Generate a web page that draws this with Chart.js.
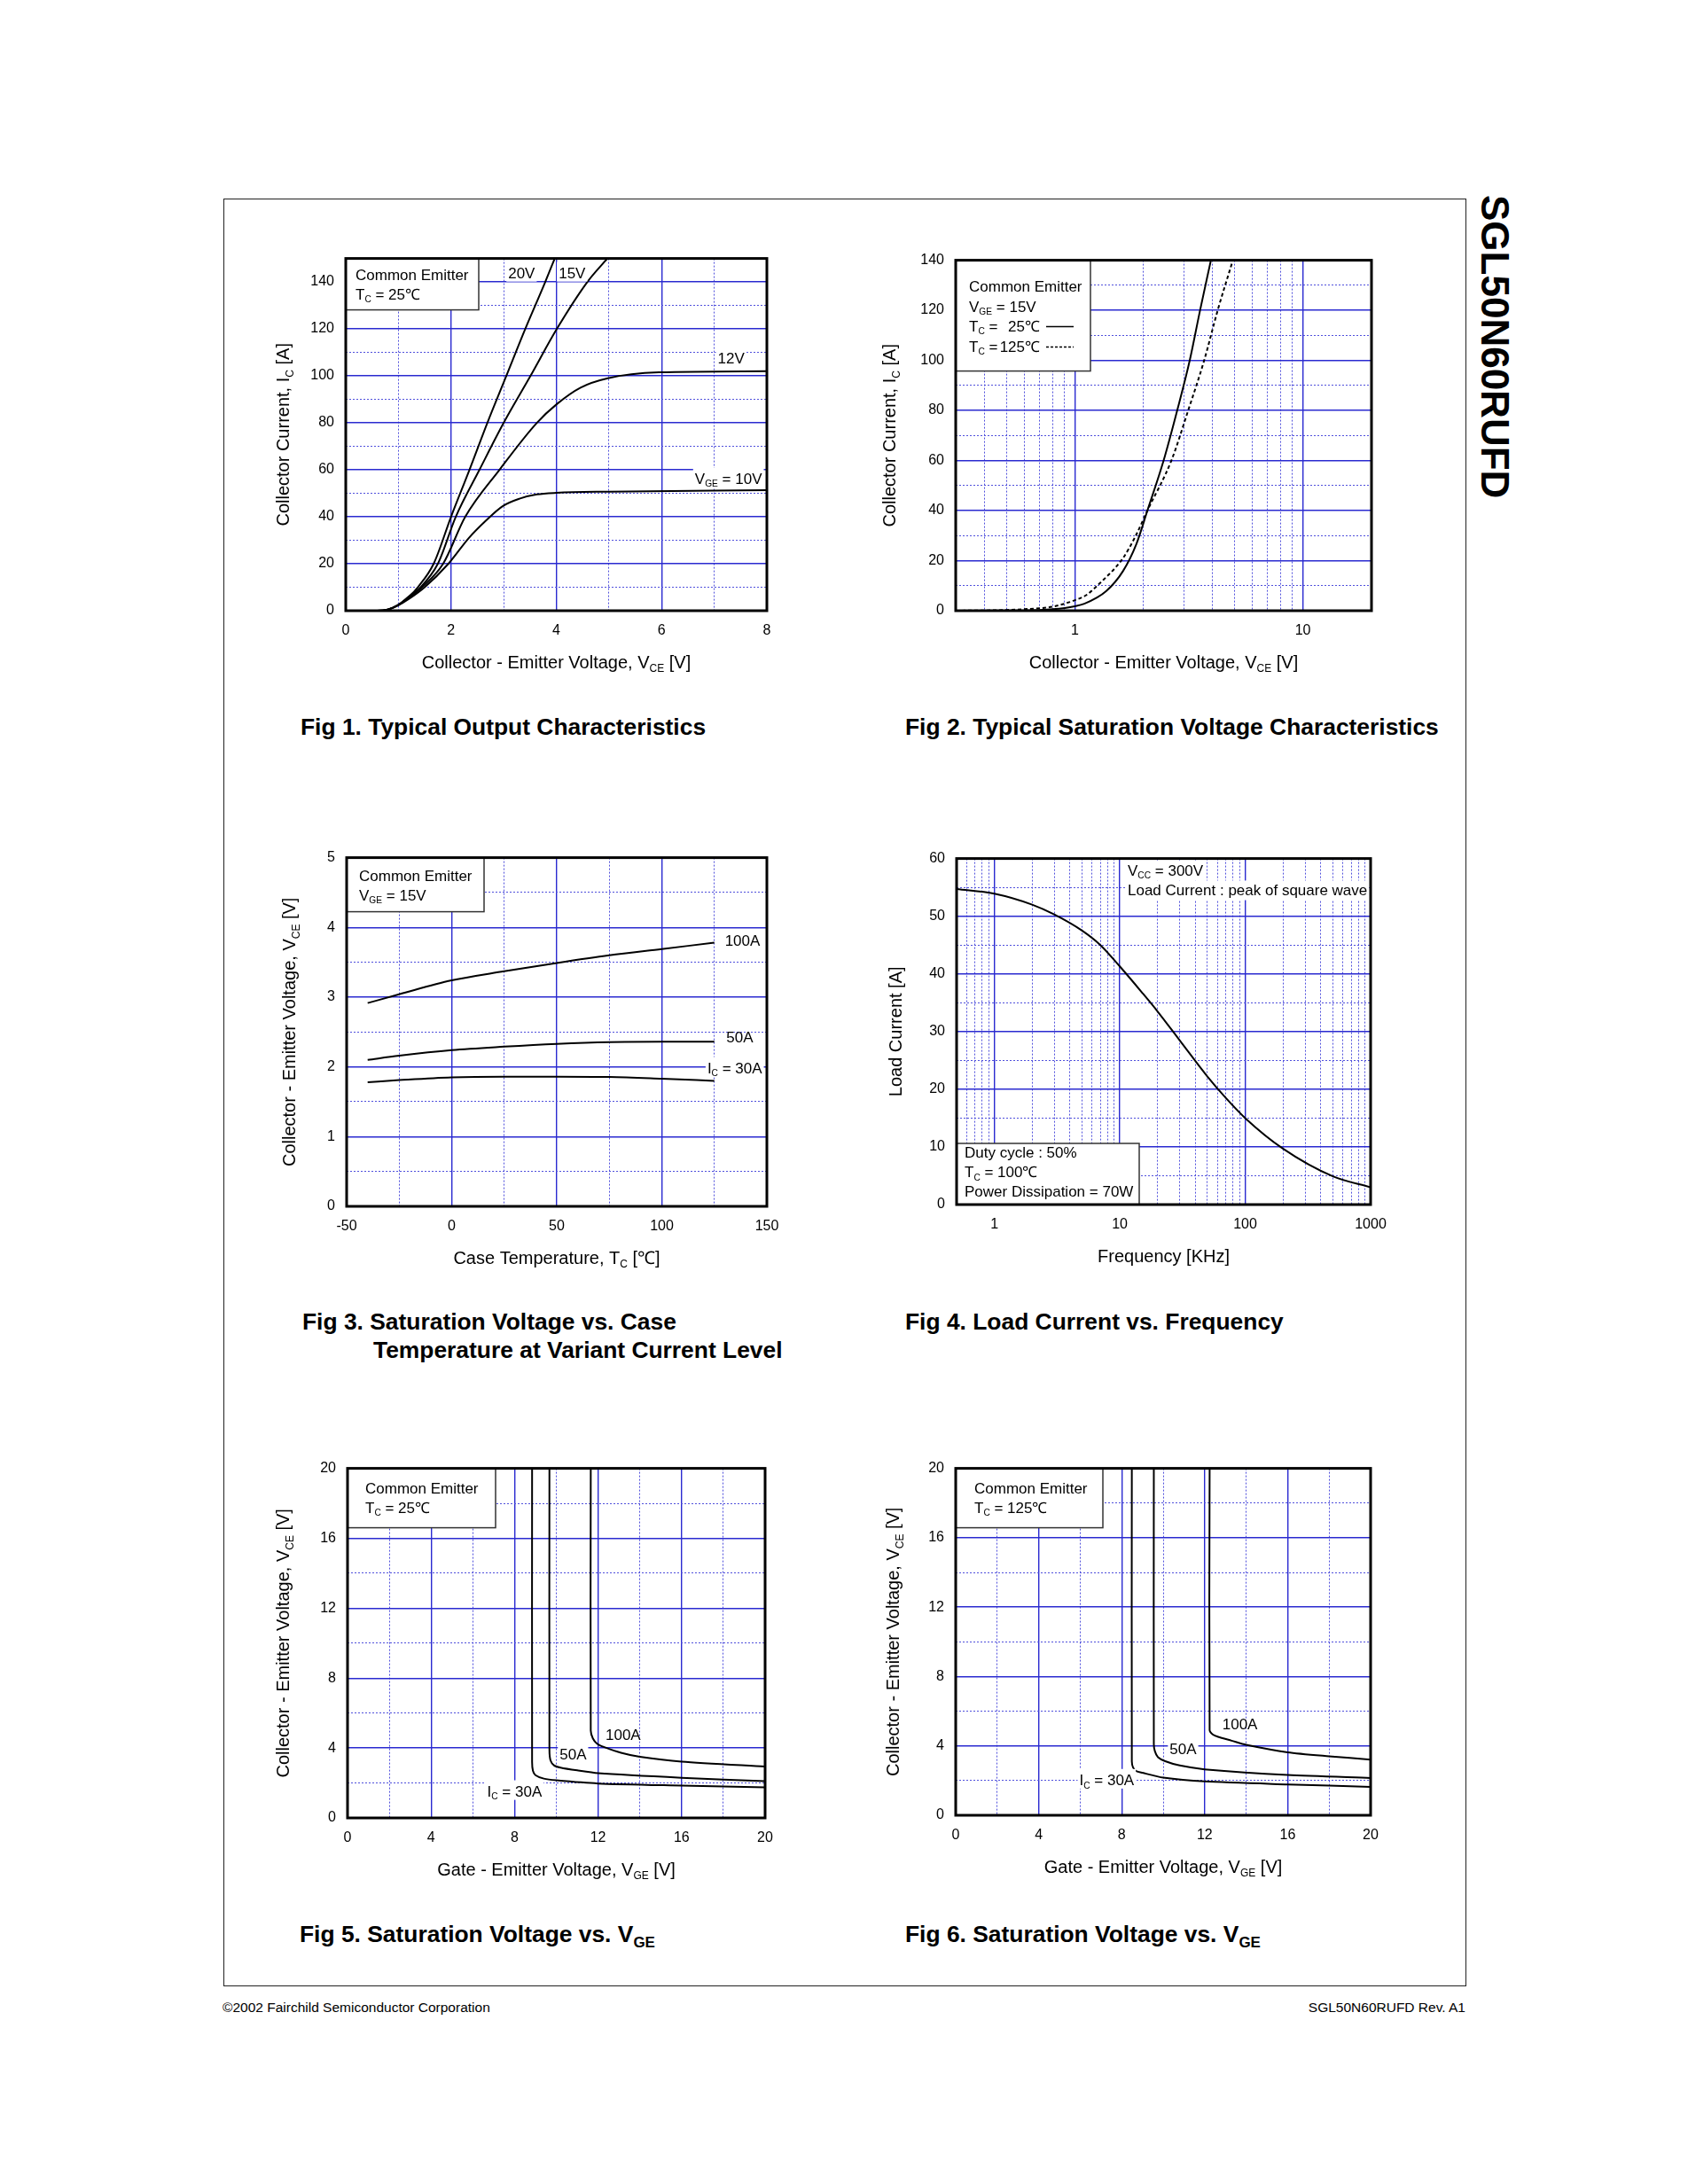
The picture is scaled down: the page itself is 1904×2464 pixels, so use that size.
<!DOCTYPE html>
<html>
<head>
<meta charset="utf-8">
<script src="https://cdn.jsdelivr.net/npm/chart.js@4.4.0/dist/chart.umd.min.js"></script>
<style>
  body { margin: 0; background: #fff; }
  #page { position: relative; width: 1904px; height: 2464px; background: #fff; font-family: "Liberation Sans", Arial, sans-serif; color: #000; overflow: hidden; }
  #page canvas { position: absolute; }
  .frame { position: absolute; left: 252px; top: 224px; width: 1402px; height: 2017px; border: 1.5px solid #222; box-sizing: border-box; }
  .title { position: absolute; font-weight: bold; font-size: 26.4px; line-height: 26px; white-space: nowrap; }
  .title sub { font-size: 17px; vertical-align: -6px; line-height: 0; }
  .foot { position: absolute; font-size: 15.5px; line-height: 15px; white-space: nowrap; }
  .side { position: absolute; left: 1664px; top: 220px; writing-mode: vertical-rl; font-weight: bold; font-size: 44px; line-height: 44px; white-space: nowrap; }
</style>
</head>
<body>
<div id="page">
  <div class="frame"></div>
  <div class="side">SGL50N60RUFD</div>

  <div class="title" style="left:339px; top:807px;">Fig 1. Typical Output Characteristics</div>
  <div class="title" style="left:1021px; top:807px;">Fig 2. Typical Saturation Voltage Characteristics</div>
  <div class="title" style="left:341px; top:1478px;">Fig 3. Saturation Voltage vs. Case</div>
  <div class="title" style="left:421px; top:1510px;">Temperature at Variant Current Level</div>
  <div class="title" style="left:1021px; top:1478px;">Fig 4. Load Current vs. Frequency</div>
  <div class="title" style="left:338px; top:2169px;">Fig 5. Saturation Voltage vs. V<sub>GE</sub></div>
  <div class="title" style="left:1021px; top:2169px;">Fig 6. Saturation Voltage vs. V<sub>GE</sub></div>

  <div class="foot" style="left:251px; top:2257px;">©2002 Fairchild Semiconductor Corporation</div>
  <div class="foot" style="right:251px; top:2257px;">SGL50N60RUFD Rev. A1</div>
</div>

<script>
// ---- data ----
// Fig 1: Ic vs Vce at Tc = 25C, for several Vge
const fig1Vge20 = [[0,0],[0.6,0],[0.8,0.5],[1.0,2.5],[1.2,6],[1.37,10],[1.67,20],[2.0,40],[2.35,60],[2.69,80],[3.05,100],[3.41,120],[3.79,140],[3.97,150]];
const fig1Vge15 = [[0,0],[0.6,0],[0.8,0.5],[1.0,2.5],[1.2,6],[1.4,9.5],[1.75,20],[2.09,40],[2.54,60],[3.0,80],[3.51,100],[4.01,120],[4.59,140],[4.97,150]];
const fig1Vge12 = [[0,0],[0.6,0],[0.8,0.5],[1.0,2.4],[1.2,5.5],[1.45,10],[1.85,20],[2.27,40],[2.92,60],[3.63,80],[4.01,88],[4.46,95],[4.98,99],[5.95,101.5],[8,102]];
const fig1Vge10 = [[0,0],[0.6,0],[0.8,0.5],[1.0,2.3],[1.2,5],[1.5,10],[1.95,20],[2.34,31],[2.66,38.3],[2.98,44.5],[3.3,47.7],[3.63,49.5],[4.0,50.2],[5,50.7],[8,51.3]];

// Fig 2: Ic vs Vce (log), Vge = 15V
const fig2Tc25 = [[0.3,0],[0.6,0.1],[0.8,0.6],[1.0,1.8],[1.1,2.8],[1.37,7.8],[1.625,15.8],[1.86,26.6],[2.08,40],[2.45,60],[2.81,80],[3.19,100],[3.54,120],[3.95,140]];
const fig2Tc125 = [[0.3,0],[0.5,0.3],[0.7,1.0],[0.8,1.6],[0.9,2.8],[1.0,4.2],[1.116,6.1],[1.28,10.8],[1.625,21],[1.85,30],[2.08,40],[2.65,60],[3.14,80],[3.69,100],[4.23,120],[4.93,140]];
const fig2XTicks = [0.3,0.4,0.5,0.6,0.7,0.8,0.9,1,2,3,4,5,6,7,8,9,10,20];
const fig2XLabels = [1, 10];

// Fig 3: Vce vs case temperature
const fig3Temp = [-40,-25,0,25,50,75,100,125];
const fig3Ic100 = [2.915,3.04,3.24,3.37,3.49,3.60,3.69,3.78];
const fig3Ic50 = [2.10,2.16,2.24,2.29,2.33,2.355,2.36,2.36];
const fig3Ic30 = [1.78,1.81,1.85,1.86,1.86,1.855,1.83,1.80];

// Fig 4: load current vs frequency
const fig4Freq = [0.5,1,2,3,5,7,10,15,20,30,50,70,100,200,500,1000];
const fig4Load = [54.7,53.9,52,50.3,47.5,45,41.3,36.8,33.5,28.5,22.2,18.5,15,9.7,4.9,3.0];
const fig4XTicks = [0.5,0.6,0.7,0.8,0.9,1,2,3,4,5,6,7,8,9,10,20,30,40,50,60,70,80,90,100,200,300,400,500,600,700,800,900,1000];
const fig4XLabels = [1, 10, 100, 1000];

// Fig 5: Vce vs Vge, Tc = 25C
const fig5Ic30 = [[8.84,20],[8.84,3.2],[8.88,2.7],[9.0,2.45],[9.4,2.25],[10,2.15],[12,1.97],[16,1.85],[20,1.75]];
const fig5Ic50 = [[9.67,20],[9.67,3.9],[9.72,3.3],[9.9,3.0],[10.2,2.88],[11,2.72],[12,2.56],[16,2.3],[20,2.1]];
const fig5Ic100 = [[11.65,20],[11.65,5.0],[11.75,4.55],[11.95,4.25],[12.3,4.05],[13.1,3.73],[14,3.5],[16,3.22],[20,2.94]];

// Fig 6: Vce vs Vge, Tc = 125C
const fig6Ic30 = [[8.49,20],[8.49,3.1],[8.55,2.75],[8.7,2.55],[9.0,2.45],[10,2.17],[12,1.95],[16,1.78],[20,1.64]];
const fig6Ic50 = [[9.55,20],[9.55,4.1],[9.6,3.7],[9.75,3.35],[10.1,3.12],[10.8,2.87],[12,2.65],[16,2.32],[20,2.15]];
const fig6Ic100 = [[12.24,20],[12.24,4.9],[12.4,4.65],[12.65,4.52],[13.3,4.3],[14,4.06],[16,3.63],[18,3.4],[20,3.21]];

// ---- drawing helpers ----
const FAM = '"Liberation Sans", Arial, sans-serif';
const MAJOR = '#2a2ad0';
const MINOR = '#5050dc';
const FS = 17;      // annotation text
const TS = 20;      // axis titles
const page = document.getElementById('page');

function fnt(size) { return size + 'px ' + FAM; }

// "I_{C}" -> [["I",0],["C",1]]
function rich(s) {
  const out = [];
  const re = /_\{([^}]*)\}/g;
  let last = 0, m;
  while ((m = re.exec(s))) {
    if (m.index > last) out.push([s.slice(last, m.index), 0]);
    out.push([m[1], 1]);
    last = re.lastIndex;
  }
  if (last < s.length) out.push([s.slice(last), 0]);
  return out;
}
function richWidth(ctx, parts, size) {
  let w = 0;
  parts.forEach(p => { ctx.font = fnt(p[1] ? size * 0.6 : size); w += ctx.measureText(p[0]).width; });
  return w;
}
function drawRich(ctx, s, x, y, size, align) {
  const parts = rich(s);
  const w = richWidth(ctx, parts, size);
  let cx = align === 'center' ? x - w / 2 : align === 'right' ? x - w : x;
  ctx.textAlign = 'left';
  ctx.textBaseline = 'alphabetic';
  ctx.fillStyle = '#000';
  parts.forEach(p => {
    ctx.font = fnt(p[1] ? size * 0.6 : size);
    ctx.fillText(p[0], cx, p[1] ? y + size * 0.22 : y);
    cx += ctx.measureText(p[0]).width;
  });
  return w;
}

const sheet = {
  id: 'sheet',
  afterDatasetsDraw(chart, args, o) {
    const ctx = chart.ctx, a = chart.chartArea;
    const xs = chart.scales.x, ys = chart.scales.y;
    ctx.save();
    ctx.beginPath();
    ctx.rect(a.left, a.top, a.width, a.height);
    ctx.clip();
    (o.labels || []).forEach(l => {
      const px = xs.getPixelForValue(l.x), py = ys.getPixelForValue(l.y);
      const w = richWidth(ctx, rich(l.t), FS);
      if (l.bg) { ctx.fillStyle = '#fff'; ctx.fillRect(px - w / 2 - 2, py - FS * 0.7, w + 4, FS * 1.3); }
      drawRich(ctx, l.t, px, py + FS * 0.36, FS, 'center');
    });
    (o.texts || []).forEach(l => {
      const w = richWidth(ctx, rich(l.t), FS);
      ctx.fillStyle = '#fff';
      ctx.fillRect(a.left + l.x - 2, a.top + l.y - FS * 0.95, w + 4, FS * 1.3);
      drawRich(ctx, l.t, a.left + l.x, a.top + l.y, FS, 'left');
    });
    const b = o.box;
    if (b) {
      const bx = a.left, by = b.at === 'bl' ? a.bottom - b.h : a.top;
      ctx.fillStyle = '#fff';
      ctx.fillRect(bx, by, b.w, b.h);
      ctx.strokeStyle = '#333';
      ctx.lineWidth = 1.5;
      ctx.strokeRect(bx, by, b.w, b.h);
      b.rows.forEach(r => drawRich(ctx, r.t, bx + r.x, by + r.y, FS, r.align || 'left'));
      (b.samples || []).forEach(s => {
        ctx.beginPath();
        ctx.setLineDash(s.dash);
        ctx.lineWidth = 1.5;
        ctx.strokeStyle = '#000';
        ctx.moveTo(bx + s.x1, by + s.y);
        ctx.lineTo(bx + s.x2, by + s.y);
        ctx.stroke();
      });
      ctx.setLineDash([]);
    }
    ctx.restore();
    ctx.save();
    ctx.strokeStyle = '#000';
    ctx.lineWidth = 3;
    ctx.strokeRect(a.left, a.top, a.width, a.height);
    // axis titles
    drawRich(ctx, o.xTitle, (a.left + a.right) / 2, a.bottom + 65, TS, 'center');
    ctx.translate(a.left - o.yOff, (a.top + a.bottom) / 2);
    ctx.rotate(-Math.PI / 2);
    drawRich(ctx, o.yTitle, 0, TS * 0.36, TS, 'center');
    ctx.restore();
  }
};

function gridFor(major) {
  return {
    drawTicks: false,
    color: c => (c.tick && major(c.tick.value)) ? MAJOR : MINOR,
    lineWidth: c => (c.tick && major(c.tick.value)) ? 1.4 : 1
  };
}
function borderFor(major) {
  return { display: false, dash: c => (c.tick && !major(c.tick.value)) ? [2, 2] : [] };
}
const tickFont = { family: FAM, size: 16 };

function linAxis(min, max, step, major, label) {
  return {
    type: 'linear', min: min, max: max,
    ticks: { stepSize: step, autoSkip: false, maxRotation: 0, padding: 13, color: '#000', font: tickFont,
      callback: v => label(v) ? String(v) : '' },
    grid: gridFor(major),
    border: borderFor(major)
  };
}
function logAxis(min, max, ticks, majors, labels) {
  const major = v => majors.includes(v);
  return {
    type: 'logarithmic', min: min, max: max,
    afterBuildTicks: s => { s.ticks = ticks.map(v => ({ value: v })); },
    ticks: { autoSkip: false, maxRotation: 0, padding: 13, color: '#000', font: tickFont,
      callback: v => labels.includes(v) ? String(v) : '' },
    grid: gridFor(major),
    border: borderFor(major)
  };
}

function curve(pts, dash, smooth) {
  return {
    data: pts.map(p => ({ x: p[0], y: p[1] })),
    borderColor: '#000', borderWidth: 2, borderDash: dash || [],
    pointRadius: 0, fill: false,
    tension: smooth === 'bezier' ? 0.25 : 0.4,
    cubicInterpolationMode: smooth === 'bezier' ? 'default' : 'monotone'
  };
}
function zip(xs, ys) { return xs.map((x, i) => [x, ys[i]]); }

function plot(rect, datasets, xAxis, yAxis, notes) {
  const L = 110, R = 40, T = 20, B = 90;
  const cv = document.createElement('canvas');
  cv.width = rect.w + L + R;
  cv.height = rect.h + T + B;
  cv.style.left = (rect.x - L) + 'px';
  cv.style.top = (rect.y - T) + 'px';
  cv.style.width = cv.width + 'px';
  cv.style.height = cv.height + 'px';
  page.appendChild(cv);
  xAxis.afterFit = s => { s.height = B; };
  yAxis.afterFit = s => { s.width = L; };
  return new Chart(cv, {
    type: 'line',
    data: { datasets: datasets },
    options: {
      responsive: false, animation: false, devicePixelRatio: 1,
      layout: { padding: { left: 0, right: R, top: T, bottom: 0 } },
      scales: { x: xAxis, y: yAxis },
      plugins: { legend: { display: false }, tooltip: { enabled: false }, sheet: notes }
    },
    plugins: [sheet]
  });
}

// ---- Fig 1 ----
plot({ x: 390, y: 289, w: 475, h: 400 },
  [curve(fig1Vge20), curve(fig1Vge15), curve(fig1Vge12), curve(fig1Vge10)],
  linAxis(0, 8, 1, v => v % 2 === 0, v => v % 2 === 0),
  linAxis(0, 150, 10, v => v % 20 === 0, v => v % 20 === 0 && v <= 140),
  {
    xTitle: 'Collector - Emitter Voltage, V_{CE} [V]', yTitle: 'Collector Current, I_{C} [A]', yOff: 71,
    labels: [
      { x: 3.34, y: 144, t: '20V', bg: true },
      { x: 4.30, y: 144, t: '15V', bg: true },
      { x: 7.32, y: 107.5, t: '12V', bg: true },
      { x: 7.27, y: 56.4, t: 'V_{GE} = 10V', bg: true }
    ],
    box: { at: 'tl', w: 150, h: 58, rows: [
      { t: 'Common Emitter', x: 11, y: 24 },
      { t: 'T_{C} = 25℃', x: 11, y: 46 }
    ] }
  });

// ---- Fig 2 ----
plot({ x: 1078, y: 291, w: 469, h: 398 },
  [curve(fig2Tc25), curve(fig2Tc125, [4, 3])],
  logAxis(0.3, 20, fig2XTicks, [1, 10], fig2XLabels),
  linAxis(0, 140, 10, v => v % 20 === 0, v => v % 20 === 0),
  {
    xTitle: 'Collector - Emitter Voltage, V_{CE} [V]', yTitle: 'Collector Current, I_{C} [A]', yOff: 75,
    box: { at: 'tl', w: 152, h: 125, rows: [
      { t: 'Common Emitter', x: 15, y: 35 },
      { t: 'V_{GE} = 15V', x: 15, y: 58 },
      { t: 'T_{C} =', x: 15, y: 80 },
      { t: '25℃', x: 95, y: 80, align: 'right' },
      { t: 'T_{C} =', x: 15, y: 103 },
      { t: '125℃', x: 95, y: 103, align: 'right' }
    ], samples: [
      { x1: 102, x2: 133, y: 75, dash: [] },
      { x1: 102, x2: 133, y: 98, dash: [3, 2] }
    ] }
  });

// ---- Fig 3 ----
plot({ x: 391, y: 965, w: 474, h: 396 },
  [curve(zip(fig3Temp, fig3Ic100)), curve(zip(fig3Temp, fig3Ic50)), curve(zip(fig3Temp, fig3Ic30))],
  linAxis(-50, 150, 25, v => v % 50 === 0, v => v % 50 === 0),
  linAxis(0, 5, 0.5, v => Number.isInteger(v), v => Number.isInteger(v)),
  {
    xTitle: 'Case Temperature, T_{C} [℃]', yTitle: 'Collector - Emitter Voltage, V_{CE} [V]', yOff: 65,
    labels: [
      { x: 138.4, y: 3.81, t: '100A' },
      { x: 137.1, y: 2.43, t: '50A' },
      { x: 134.7, y: 1.99, t: 'I_{C} = 30A', bg: true }
    ],
    box: { at: 'tl', w: 155, h: 61, rows: [
      { t: 'Common Emitter', x: 14, y: 26 },
      { t: 'V_{GE} = 15V', x: 14, y: 48 }
    ] }
  });

// ---- Fig 4 ----
plot({ x: 1079, y: 966, w: 467, h: 393 },
  [curve(zip(fig4Freq, fig4Load))],
  logAxis(0.5, 1000, fig4XTicks, [1, 10, 100], fig4XLabels),
  linAxis(0, 60, 5, v => v % 10 === 0, v => v % 10 === 0),
  {
    xTitle: 'Frequency [KHz]', yTitle: 'Load Current [A]', yOff: 69,
    texts: [
      { t: 'V_{CC} = 300V', x: 193, y: 19 },
      { t: 'Load Current : peak of square wave', x: 193, y: 41 }
    ],
    box: { at: 'bl', w: 206, h: 69, rows: [
      { t: 'Duty cycle : 50%', x: 9, y: 16 },
      { t: 'T_{C} = 100℃', x: 9, y: 38 },
      { t: 'Power Dissipation = 70W', x: 9, y: 60 }
    ] }
  });

// ---- Fig 5 ----
plot({ x: 392, y: 1654, w: 471, h: 397 },
  [curve(fig5Ic30, null, 'bezier'), curve(fig5Ic50, null, 'bezier'), curve(fig5Ic100, null, 'bezier')],
  linAxis(0, 20, 2, v => v % 4 === 0, v => v % 4 === 0),
  linAxis(0, 20, 2, v => v % 4 === 0, v => v % 4 === 0),
  {
    xTitle: 'Gate - Emitter Voltage, V_{GE} [V]', yTitle: 'Collector - Emitter Voltage, V_{CE} [V]', yOff: 73,
    labels: [
      { x: 13.2, y: 4.77, t: '100A' },
      { x: 10.8, y: 3.65, t: '50A', bg: true },
      { x: 8.0, y: 1.55, t: 'I_{C} = 30A', bg: true }
    ],
    box: { at: 'tl', w: 167, h: 67, rows: [
      { t: 'Common Emitter', x: 20, y: 28 },
      { t: 'T_{C} = 25℃', x: 20, y: 50 }
    ] }
  });

// ---- Fig 6 ----
plot({ x: 1078, y: 1654, w: 468, h: 394 },
  [curve(fig6Ic30, null, 'bezier'), curve(fig6Ic50, null, 'bezier'), curve(fig6Ic100, null, 'bezier')],
  linAxis(0, 20, 2, v => v % 4 === 0, v => v % 4 === 0),
  linAxis(0, 20, 2, v => v % 4 === 0, v => v % 4 === 0),
  {
    xTitle: 'Gate - Emitter Voltage, V_{GE} [V]', yTitle: 'Collector - Emitter Voltage, V_{CE} [V]', yOff: 71,
    labels: [
      { x: 13.7, y: 5.29, t: '100A' },
      { x: 10.96, y: 3.84, t: '50A', bg: true },
      { x: 7.28, y: 2.06, t: 'I_{C} = 30A', bg: true }
    ],
    box: { at: 'tl', w: 166, h: 67, rows: [
      { t: 'Common Emitter', x: 21, y: 28 },
      { t: 'T_{C} = 125℃', x: 21, y: 50 }
    ] }
  });
</script>
</body>
</html>
